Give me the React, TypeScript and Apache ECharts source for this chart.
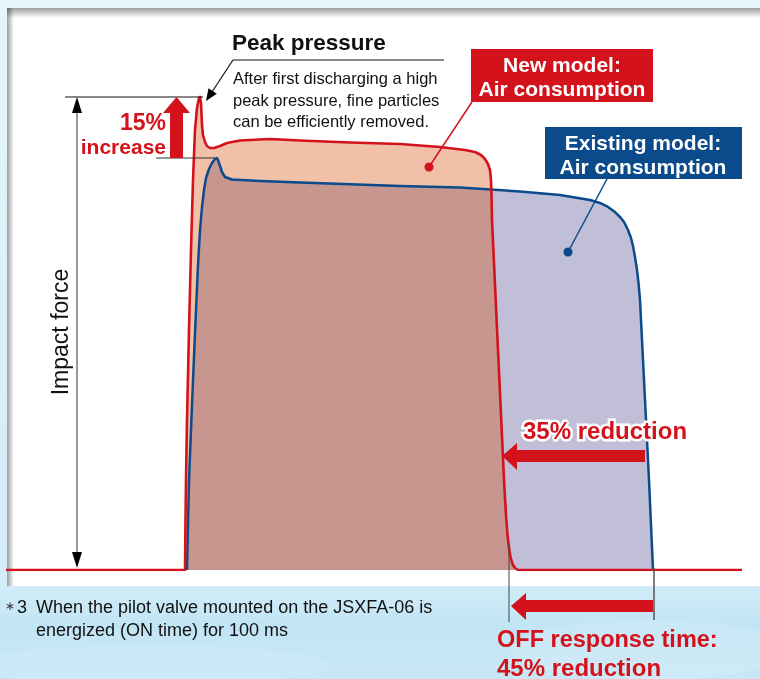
import React, { useEffect, useRef } from "react";
import * as echarts from "echarts";

// Time in ms (100 ms ON time), impact force in % of existing model peak
const redTime = [0, 55.94, 56.09, 56.25, 56.56, 57.19, 57.81, 58.44, 59.06, 59.69, 60.31, 60.63, 60.94, 61.25, 61.56, 62.19, 62.81, 63.75, 65.0, 66.88, 69.06, 73.13, 76.25, 82.5, 91.88, 107.5, 123.13, 135.63, 143.44, 146.56, 148.44, 149.69, 150.63, 151.25, 151.56, 151.72, 151.88, 153.75, 155.63, 156.25, 156.72, 157.19, 157.66, 158.28, 159.06, 160.0, 230];
const redForce = [0, 0, 12.14, 21.84, 36.41, 58.25, 77.67, 94.66, 106.8, 112.14, 114.56, 114.81, 113.35, 108.01, 105.58, 103.88, 102.91, 102.43, 102.43, 102.91, 103.64, 104.25, 104.37, 104.61, 104.25, 103.76, 103.4, 102.67, 101.94, 101.46, 100.73, 99.76, 98.54, 97.09, 94.66, 91.02, 84.95, 53.4, 21.84, 13.35, 8.5, 5.34, 3.16, 1.46, 0.49, 0, 0];

const blueTime = [56.56, 57.19, 57.81, 58.44, 59.38, 60.0, 60.63, 61.25, 61.88, 62.5, 63.44, 64.38, 65.31, 65.94, 66.25, 66.88, 67.5, 68.44, 70.63, 79.38, 91.88, 123.13, 141.88, 160.63, 173.13, 182.5, 185.63, 188.13, 190.31, 191.88, 193.13, 194.38, 195.31, 195.94, 196.56, 197.19, 197.66, 198.13, 200.94, 202.19];
const blueForce = [0, 21.84, 33.98, 46.12, 63.11, 74.03, 82.52, 88.11, 92.23, 95.15, 97.33, 98.79, 99.76, 100.0, 99.51, 98.06, 96.6, 95.39, 94.78, 94.42, 94.05, 93.2, 92.84, 91.87, 91.02, 89.81, 89.08, 88.11, 86.89, 85.68, 84.47, 82.52, 80.58, 78.64, 75.97, 72.82, 69.66, 65.53, 21.84, 0];

const axisLabel = "Impact force";
const peakTitle = "Peak pressure";
const peakNote = ["After first discharging a high", "peak pressure, fine particles", "can be efficiently removed."];
const newModel = ["New model:", "Air consumption"];
const oldModel = ["Existing model:", "Air consumption"];
const increase = ["15%", "increase"];
const reduction35 = "35% reduction";
const offText = ["OFF response time:", "45% reduction"];
const footnote = ["When the pilot valve mounted on the JSXFA-06 is", "energized (ON time) for 100 ms"];

const FONT = '"Liberation Sans", Arial, Helvetica, sans-serif';
const RED = "#d3121c";
const BLUE = "#0b4a8b";

export default function App() {
  const ref = useRef<HTMLDivElement>(null);
  useEffect(() => {
    const chart = echarts.init(ref.current!, null, { renderer: "svg" });
    const red = redTime.map((t, i) => [t, redForce[i]]);
    const blue = blueTime.map((t, i) => [t, blueForce[i]]);

    const txt = (x: number, y: number, text: string, size: number, o: any = {}) => ({
      type: "text",
      x,
      y,
      z: 20,
      rotation: o.rotation || 0,
      style: {
        text,
        font: `${o.bold ? "bold " : ""}${size}px ${FONT}`,
        fill: o.fill || "#111",
        align: o.align || "left",
        textAlign: o.align || "left",
        verticalAlign: "middle",
        textVerticalAlign: "middle",
        stroke: o.stroke,
        lineWidth: o.lineWidth || 0,
      },
    });
    const line = (x1: number, y1: number, x2: number, y2: number, stroke = "#111", lw = 1) => ({
      type: "line",
      z: 20,
      shape: { x1, y1, x2, y2 },
      style: { stroke, lineWidth: lw },
    });
    const poly = (points: number[][], fill: string) => ({
      type: "polygon",
      z: 20,
      shape: { points },
      style: { fill },
    });

    const graphic: any[] = [
      {
        type: "rect",
        z: 0,
        shape: { x: 0, y: 0, width: 760, height: 679 },
        style: {
          fill: new echarts.graphic.LinearGradient(0, 0, 0, 1, [
            { offset: 0, color: "#e6f4fb" },
            { offset: 0.86, color: "#d2ecf8" },
            { offset: 0.92, color: "#c2e5f5" },
            { offset: 1, color: "#c8e7f6" },
          ]),
        },
      },
      { type: "ellipse", z: 0, shape: { cx: 650, cy: 650, rx: 140, ry: 30 }, style: { fill: "rgba(255,255,255,0.12)" } },
      { type: "ellipse", z: 0, shape: { cx: 150, cy: 665, rx: 180, ry: 20 }, style: { fill: "rgba(255,255,255,0.1)" } },
      { type: "rect", z: 0, shape: { x: 7, y: 8, width: 753, height: 578 }, style: { fill: "#ffffff" } },
      {
        type: "rect",
        z: 0,
        shape: { x: 7, y: 8, width: 753, height: 10 },
        style: {
          fill: new echarts.graphic.LinearGradient(0, 0, 0, 1, [
            { offset: 0, color: "rgba(0,0,0,0.38)" },
            { offset: 1, color: "rgba(0,0,0,0)" },
          ]),
        },
      },
      {
        type: "rect",
        z: 0,
        shape: { x: 7, y: 8, width: 7, height: 578 },
        style: {
          fill: new echarts.graphic.LinearGradient(0, 0, 1, 0, [
            { offset: 0, color: "rgba(0,0,0,0.38)" },
            { offset: 1, color: "rgba(0,0,0,0)" },
          ]),
        },
      },

      // Impact force dimension arrow
      line(65, 97, 203, 97, "#111", 1),
      line(156, 158, 215, 158, "#333", 1),
      line(77, 110, 77, 556, "#333", 1),
      poly([[77, 97], [82, 113], [72, 113]], "#000"),
      poly([[77, 568], [82, 552], [72, 552]], "#000"),
      txt(60, 332, axisLabel, 23, { rotation: Math.PI / 2, align: "center" }),

      // 15% increase
      poly([[176.5, 97], [190, 113], [183, 113], [183, 158], [170, 158], [170, 113], [163, 113]], RED),
      txt(166, 122, increase[0], 23, { bold: true, fill: RED, align: "right" }),
      txt(166, 146.5, increase[1], 21, { bold: true, fill: RED, align: "right" }),

      // Peak pressure callout
      txt(232, 42, peakTitle, 22.5, { bold: true }),
      line(233, 60, 444, 60, "#111", 1.2),
      line(233, 60, 212.6, 91, "#111", 1.2),
      poly([[206, 101], [216.8, 93.8], [208.5, 88.3]], "#000"),
      txt(233, 78, peakNote[0], 16.5),
      txt(233, 100, peakNote[1], 16.5),
      txt(233, 121, peakNote[2], 16.5),

      // New model box
      { type: "rect", z: 20, shape: { x: 471, y: 49, width: 182, height: 53 }, style: { fill: RED } },
      txt(562, 64, newModel[0], 21, { bold: true, fill: "#fff", align: "center" }),
      txt(562, 88, newModel[1], 21, { bold: true, fill: "#fff", align: "center" }),
      line(472, 102, 429, 167, RED, 1.5),
      { type: "circle", z: 20, shape: { cx: 429, cy: 167, r: 4.5 }, style: { fill: RED } },

      // Existing model box
      { type: "rect", z: 20, shape: { x: 545, y: 127, width: 197, height: 52 }, style: { fill: BLUE } },
      txt(643, 142, oldModel[0], 21, { bold: true, fill: "#fff", align: "center" }),
      txt(643, 166, oldModel[1], 21, { bold: true, fill: "#fff", align: "center" }),
      line(607, 179, 568, 252, BLUE, 1.5),
      { type: "circle", z: 20, shape: { cx: 568, cy: 252, r: 4.5 }, style: { fill: BLUE } },

      // 35% reduction
      txt(523, 430, reduction35, 24, { bold: true, fill: "#fff", stroke: "#fff", lineWidth: 5 }),
      txt(523, 430, reduction35, 24, { bold: true, fill: RED }),
      poly([[502, 456], [517, 443], [517, 450], [645, 450], [645, 462], [517, 462], [517, 470]], RED),

      // OFF response time
      line(509, 545, 509, 622, "#444", 1),
      line(654, 568, 654, 620, "#555", 1.5),
      poly([[511, 606], [526, 593], [526, 600], [653, 600], [653, 612], [526, 612], [526, 620]], RED),
      txt(497, 639, offText[0], 23.5, { bold: true, fill: RED }),
      txt(497, 667, offText[1], 24, { bold: true, fill: RED }),

      // footnote
      txt(5, 606, "∗", 12, { fill: "#333" }),
      txt(17, 607, "3", 18, { fill: "#111" }),
      txt(36, 607, footnote[0], 18),
      txt(36, 630, footnote[1], 18),
    ];

    chart.setOption({
      animation: false,
      grid: { left: 6, right: 18, top: 34.4, bottom: 109 },
      xAxis: { type: "value", min: 0, max: 230, show: false },
      yAxis: { type: "value", min: 0, max: 130, show: false },
      graphic,
      series: [
        {
          type: "line",
          data: blue,
          symbol: "none",
          silent: true,
          lineStyle: { width: 0, opacity: 0 },
          areaStyle: { color: "#c1bfd7", opacity: 1 },
          z: 2,
        },
        {
          type: "line",
          data: red,
          symbol: "none",
          silent: true,
          lineStyle: { width: 0, opacity: 0 },
          areaStyle: { color: "rgba(212,75,6,0.35)", opacity: 1 },
          z: 3,
        },
        {
          type: "line",
          data: blue,
          symbol: "none",
          silent: true,
          lineStyle: { color: BLUE, width: 2.5, join: "round" },
          z: 4,
        },
        {
          type: "line",
          data: red,
          symbol: "none",
          silent: true,
          lineStyle: { color: RED, width: 2.6, join: "round" },
          z: 5,
        },
      ],
    });
    return () => chart.dispose();
  }, []);
  return <div ref={ref} style={{ position: "fixed", left: 0, top: 0, width: 760, height: 679 }} />;
}
